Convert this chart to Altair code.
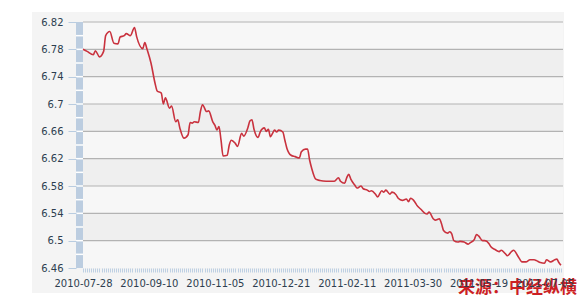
import altair as alt
import pandas as pd

# trading-day index and USD/CNY rate
day = [0, 2, 5, 6, 8, 10, 11, 13, 15, 17, 18, 20, 21, 23, 25, 26, 29, 30, 31, 33,
       35, 36, 38, 39, 40, 42, 43, 45, 46, 47, 49, 51, 52, 53, 54, 56, 57, 58, 60, 61,
       63, 64, 65, 66, 67, 68, 70, 71, 72, 74, 75, 77, 78, 80, 81, 82, 83, 85, 86, 88,
       89, 90, 91, 92, 93, 94, 95, 97, 98, 99, 101, 103, 105, 106, 108, 109, 110, 111, 113, 115,
       118, 122, 124, 125, 127, 128, 129, 130, 132, 133, 135, 136, 138, 139, 140, 142, 143, 145, 146, 147,
       149, 150, 152, 153, 155, 157, 158, 159, 161, 162, 164, 166, 167, 168, 170, 171, 173, 174, 175, 177,
       178, 179, 180, 182, 183, 185, 187, 188, 190, 191, 192, 194, 195, 197, 198, 200, 202, 203, 205, 206,
       208, 209, 211, 212, 213, 215, 217, 219, 220, 222, 224, 225, 227, 229, 230, 231, 232]
rate = [6.780, 6.777, 6.772, 6.778, 6.769, 6.777, 6.800, 6.806, 6.789, 6.788, 6.798, 6.800, 6.803, 6.800, 6.812, 6.799, 6.781, 6.790, 6.781, 6.760,
        6.730, 6.719, 6.716, 6.700, 6.709, 6.694, 6.697, 6.674, 6.677, 6.665, 6.650, 6.655, 6.673, 6.672, 6.674, 6.673, 6.689, 6.699, 6.689, 6.690,
        6.674, 6.669, 6.662, 6.667, 6.647, 6.624, 6.625, 6.640, 6.647, 6.642, 6.638, 6.657, 6.653, 6.665, 6.675, 6.677, 6.663, 6.651, 6.659, 6.665,
        6.660, 6.663, 6.652, 6.657, 6.662, 6.659, 6.662, 6.659, 6.647, 6.635, 6.625, 6.623, 6.621, 6.630, 6.634, 6.634, 6.618, 6.606, 6.590, 6.588,
        6.587, 6.587, 6.592, 6.587, 6.584, 6.592, 6.597, 6.590, 6.581, 6.577, 6.580, 6.576, 6.574, 6.572, 6.573, 6.568, 6.564, 6.573, 6.571, 6.574,
        6.568, 6.571, 6.567, 6.562, 6.559, 6.561, 6.557, 6.562, 6.557, 6.552, 6.546, 6.540, 6.539, 6.542, 6.532, 6.530, 6.532, 6.525, 6.515, 6.511,
        6.513, 6.510, 6.500, 6.498, 6.499, 6.498, 6.495, 6.497, 6.502, 6.509, 6.507, 6.500, 6.500, 6.496, 6.491, 6.487, 6.484, 6.486, 6.481, 6.478,
        6.484, 6.486, 6.478, 6.473, 6.469, 6.469, 6.472, 6.472, 6.471, 6.468, 6.467, 6.472, 6.469, 6.472, 6.473, 6.468, 6.464]

x_labels = ["2010-07-28", "2010-09-10", "2010-11-05", "2010-12-21",
            "2011-02-11", "2011-03-30", "2011-05-19", "2011-07-05"]
label_step = 32
day_max = 233

y_ticks = [6.46, 6.50, 6.54, 6.58, 6.62, 6.66, 6.70, 6.74, 6.78, 6.82]
y_seps = [6.48, 6.50, 6.52, 6.54, 6.56, 6.58, 6.60, 6.62, 6.64, 6.66,
          6.68, 6.70, 6.72, 6.74, 6.76, 6.78, 6.80]
source_text = "来源：中经纵横"

FONT = "DejaVu Sans"
TXT = "#2d3e50"

df = pd.DataFrame({"day": day, "rate": rate})
bands = pd.DataFrame({"lo": y_ticks[:-1], "hi": y_ticks[1:], "i": list(range(len(y_ticks) - 1))})
grid = pd.DataFrame({"g": y_ticks[1:]})
seps = pd.DataFrame({"s": y_seps})
one = pd.DataFrame({"k": [0]})

yscale = alt.Scale(domain=[y_ticks[0], y_ticks[-1]], nice=False, zero=False)
yaxis = alt.Axis(values=y_ticks, format="~g", grid=False, domain=False, offset=7,
                 tickSize=8, tickColor="#b9cce0", tickWidth=1, labelPadding=5,
                 labelFont=FONT, labelFontSize=10, labelColor=TXT, title=None, zindex=1)

def yenc(field):
    return alt.Y(f"{field}:Q", scale=yscale, axis=yaxis, title=None)

labels_js = "[" + ",".join(f"'{s}'" for s in x_labels) + "]"
xaxis = alt.Axis(values=list(range(0, day_max)), grid=False, domain=False,
                 tickSize=4, tickColor="#bed0e3", tickWidth=1, labelPadding=6,
                 labelExpr=f"datum.value % {label_step} == 0 ? {labels_js}[datum.value / {label_step}] : ''",
                 labelOverlap=False, labelFlush=False, labelFont=FONT, labelFontSize=10,
                 labelColor=TXT, title=None, zindex=1)

panel = alt.Chart(one).mark_rect(color="#f4f4f4").encode(
    x=alt.value(-51), x2=alt.value(481), y=alt.value(-10), y2=alt.value(271))

band_layer = alt.Chart(bands).mark_rect().encode(
    x=alt.value(0), x2=alt.value(480), y=yenc("lo"), y2="hi",
    color=alt.condition("datum.i % 2 == 0", alt.value("#f7f7f7"), alt.value("#efefef")))

bar = alt.Chart(bands).mark_rect(color="#bccde0").encode(
    x=alt.value(-7), x2=alt.value(0), y=yenc("lo"), y2="hi")

sep_layer = alt.Chart(seps).mark_rule(color="white", strokeWidth=1.5).encode(
    x=alt.value(-7), x2=alt.value(0), y=yenc("s"))

grid_layer = alt.Chart(grid).mark_rule(color="#b3b3b3", strokeWidth=1.2).encode(
    x=alt.value(0), x2=alt.value(480), y=yenc("g"))

line = alt.Chart(df).mark_line(color="#c9323e", strokeWidth=1.6, interpolate="monotone").encode(
    x=alt.X("day:Q", scale=alt.Scale(domain=[0, day_max], nice=False, zero=False), axis=xaxis),
    y=yenc("rate"))

mark_src = alt.Chart(one).mark_text(
    text=source_text, font="Noto Sans CJK SC", fontSize=17, fontWeight="bold",
    color="#cc1f24", align="left", baseline="middle").encode(
    x=alt.value(375), y=alt.value(266))

chart = alt.layer(panel, band_layer, grid_layer, bar, sep_layer, line, mark_src).properties(
    width=480, height=246,
    autosize=alt.AutoSizeParams(type="none"),
    padding={"left": 83, "top": 22, "right": 18, "bottom": 33},
    background="white",
).configure_view(stroke=None)

chart.save("out.html", embed_options={"renderer": "svg", "actions": False})
